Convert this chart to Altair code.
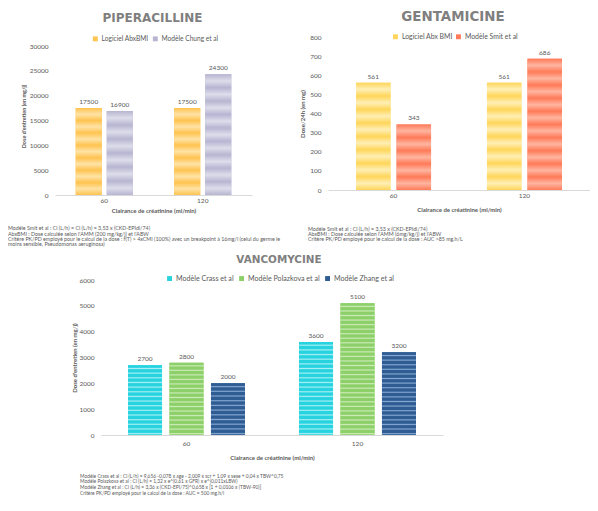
import altair as alt
import pandas as pd

# ---------------- data ----------------
cats = ["60", "120"]
x_title = "Clairance de créatinine (ml/min)"

pip_title = "PIPERACILLINE"
pip_series = ["Logiciel AbxBMI", "Modèle Chung et al"]
pip_abxbmi = [17500, 17500]
pip_chung = [16900, 24300]
pip_ticks = [0, 5000, 10000, 15000, 20000, 25000, 30000]
pip_ytitle = "Dose d'entretien (en mg/j)"
pip_notes = [
    "Modèle Smit et al : Cl (L/h) = Cl (L/h) = 3,53 x (CKD-EPIdi/74)",
    "AbxBMI : Dose calculée selon l'AMM (200 mg/kg/j) et l'ABW",
    "Critère PK/PD employé pour le calcul de la dose : f(T) > 4xCMI (100%) avec un breakpoint à 16mg/l (celui du germe le",
    "moins sensible, Pseudomonas aeruginosa)",
]

gen_title = "GENTAMICINE"
gen_series = ["Logiciel Abx BMI", "Modèle Smit et al"]
gen_abxbmi = [561, 561]
gen_smit = [343, 686]
gen_ticks = [0, 100, 200, 300, 400, 500, 600, 700, 800]
gen_ytitle = "Dose/24h (en mg)"
gen_notes = [
    "Modèle Smit et al : Cl (L/h) = 3,53 x (CKD-EPIdi/74)",
    "AbxBMI : Dose calculée selon l'AMM (6mg/kg/j) et l'ABW",
    "Critère PK/PD employé pour le calcul de la dose : AUC >85 mg.h/L",
]

van_title = "VANCOMYCINE"
van_series = ["Modèle Crass et al", "Modèle Polazkova et al", "Modèle Zhang et al"]
van_crass = [2700, 3600]
van_polazkova = [2800, 5100]
van_zhang = [2000, 3200]
van_ticks = [0, 1000, 2000, 3000, 4000, 5000, 6000]
van_ytitle = "Dose d'entretien (en mg/j)"
van_notes = [
    "Modèle Crass et al : Cl (L/h) = 9,656 -0,078 x age - 2,009 x scr + 1,09 x sexe + 0,04 x TBW^0,75",
    "Modèle Polazkova et al : Cl (L/h) = 1,32 x e^(0,61 x GFR) x e^(0,011xLBW)",
    "Modèle Zhang et al : Cl (L/h) = 3,36 x (CKD-EPI/75)^0,658 x [1 + 0,0106 x (TBW-90)]",
    "Critère PK/PD employé pour le calcul de la dose : AUC = 500 mg.h/l",
]

# ---------------- style ----------------
FONT = "Lato"
TFONT = "DejaVu Sans"
TXT = "#595959"
TTL = "#7F7F7F"
AXLINE = "#D9D9D9"

pip_colors = ["#FFC350", "#B7B5D1"]
pip_lights = ["#FFE3A6", "#DEDDEB"]
gen_colors = ["#FFD65A", "#FF7A58"]
gen_lights = ["#FFEFB5", "#FFB5A0"]
van_colors = ["#28D3E0", "#8DD06A", "#2E5C93"]
van_lights = ["#A6EFF4", "#CDECB8", "#86A8D2"]

one = pd.DataFrame({"k": [0]})


def frame(series, columns):
    rows = []
    for s, vals in zip(series, columns):
        for c, v in zip(cats, vals):
            rows.append({"cat": c, "series": s, "value": v})
    return pd.DataFrame(rows)


def stripes(base, light, n, sharp):
    d = 1.0 / n
    stops = []
    for k in range(n):
        a = k * d
        if sharp:
            stops += [(a, base), (a + 0.45 * d, base), (a + 0.7 * d, light), (a + 0.95 * d, base)]
        else:
            stops += [(a, base), (a + 0.5 * d, light)]
    stops.append((1.0, base))
    return {
        "gradient": "linear", "x1": 0, "y1": 0, "x2": 0, "y2": 1,
        "stops": [{"offset": round(min(o, 1.0), 5), "color": c} for o, c in stops],
    }


def dummy(x, y):
    return alt.Chart(one).mark_text(text=" ", fontSize=1, color="white",
                                    align="left", baseline="top").encode(
        x=alt.value(x), y=alt.value(y))


def panel(df, series, colors, lights, ticks, ymax, W, H, pin, pout, oin, sharp, period,
          title, tsize, tx, ty, ytitle, ysize, ytpad, lx, ly, lfont, lcol,
          notes, nx, ny, nfont, nlh, xlpad, xtpad, dummies):
    xs = alt.X("cat:N", sort=cats,
               scale=alt.Scale(paddingInner=pin, paddingOuter=pout),
               axis=alt.Axis(title=x_title, labelAngle=0, ticks=False, tickSize=0,
                             domainColor=AXLINE, labelColor=TXT, labelFont=FONT,
                             labelFontSize=6.5, labelPadding=xlpad,
                             titleFont=FONT, titleFontSize=6, titleFontWeight="bold",
                             titleColor=TXT, titlePadding=xtpad))
    xo = alt.XOffset("series:N", sort=series,
                     scale=alt.Scale(domain=series, paddingInner=oin, paddingOuter=0))
    ys = alt.Y("value:Q", scale=alt.Scale(domain=[0, ymax], nice=False, zero=True),
               axis=alt.Axis(values=ticks, domain=False, ticks=False, tickSize=0, grid=False,
                             labelColor=TXT, labelFont=FONT, labelFontSize=6.5,
                             labelPadding=7, format="d", title=ytitle,
                             titleFont=FONT, titleFontSize=ysize, titleFontWeight="bold",
                             titleColor=TXT, titlePadding=ytpad))
    color = alt.Color("series:N", scale=alt.Scale(domain=series, range=colors),
                      legend=alt.Legend(title=None, orient="none", legendX=lx, legendY=ly,
                                        direction="horizontal", symbolType="square",
                                        symbolSize=24, symbolStrokeWidth=0, padding=0,
                                        labelFont=FONT, labelFontSize=lfont, labelColor=TXT,
                                        columnPadding=lcol, labelOffset=3))
    layers = [alt.Chart(df).mark_bar().encode(x=xs, xOffset=xo, y=ys, color=color)]
    for s, col, lt in zip(series, colors, lights):
        for c in cats:
            v = float(df[(df.series == s) & (df.cat == c)].value.iloc[0])
            n = max(1, int(round(v / ymax * H / period)))
            layers.append(
                alt.Chart(df)
                .transform_filter(f"datum.series == '{s}' && datum.cat == '{c}'")
                .mark_bar(color=stripes(col, lt, n, sharp))
                .encode(x=xs, xOffset=xo, y=ys)
            )
    layers.append(
        alt.Chart(df).mark_text(font=FONT, fontSize=6.5, color=TXT, baseline="bottom", dy=-3)
        .encode(x=xs, xOffset=xo, y=ys, text=alt.Text("value:Q", format="d"))
    )
    layers.append(
        alt.Chart(one).mark_text(font=TFONT, fontWeight="bold", fontSize=tsize, color=TTL,
                                 align="center", baseline="middle")
        .encode(x=alt.value(tx), y=alt.value(ty), text=alt.value(title))
    )
    layers.append(
        alt.Chart(one).mark_text(font=FONT, fontSize=nfont, color=TXT, align="left",
                                 baseline="top", lineHeight=nlh)
        .encode(x=alt.value(nx), y=alt.value(ny), text=alt.value(notes))
    )
    for (dx, dy) in dummies:
        layers.append(dummy(dx, dy))
    return alt.layer(*layers).properties(width=W, height=H)


pip_df = frame(pip_series, [pip_abxbmi, pip_chung])
gen_df = frame(gen_series, [gen_abxbmi, gen_smit])
van_df = frame(van_series, [van_crass, van_polazkova, van_zhang])

pip = panel(pip_df, pip_series, pip_colors, pip_lights, pip_ticks, 30000 * 158 / 149,
            197, 158, 0.42, 0.21, 0.16, False, 13,
            pip_title, 12, 97.5, -19, pip_ytitle, 5.5, 3, 37, -1.5, 6.6, 3,
            pip_notes, -47, 189.4, 5.3, 5.3, 2.5, 3,
            [(-47, -29), (240, 213)])

gen = panel(gen_df, gen_series, gen_colors, gen_lights, gen_ticks, 800,
            262, 153, 0.427, 0.214, 0.15, False, 13,
            gen_title, 13.4, 125, -20, gen_ytitle, 6, 4, 64, -4, 6.9, 2,
            gen_notes, -20, 190.4, 5.3, 5, 2.5, 7,
            [(-31, -20)])

van = panel(van_df, van_series, van_colors, van_lights, van_ticks, 6000,
            342, 155, 0.316, 0.158, 0.18, True, 4.6,
            van_title, 10.4, 178, -20, van_ytitle, 6, 1, 65, -5.2, 7.1, 4,
            van_notes, -21, 193.8, 4.85, 5.7, 5.5, 7,
            [(-40, -29)])

spacer = alt.Chart(one).mark_text(text=" ", fontSize=1, color="white").encode(
    x=alt.value(0), y=alt.value(0)).properties(width=1, height=1)

top = (
    alt.hconcat(pip, gen, spacing=2)
    .resolve_scale(color="independent", xOffset="independent", x="independent", y="independent")
    .resolve_legend(color="independent")
)
bottom = (
    alt.hconcat(spacer, van, spacing=5)
    .resolve_scale(color="independent", xOffset="independent", x="independent", y="independent")
    .resolve_legend(color="independent")
)

chart = (
    alt.vconcat(top, bottom, spacing=0)
    .resolve_scale(color="independent", xOffset="independent", x="independent", y="independent")
    .resolve_legend(color="independent")
    .properties(padding={"left": 0, "top": 0, "right": 0, "bottom": 0}, background="white")
    .configure_view(strokeWidth=0)
)

chart.save("out.html", embed_options={"renderer": "svg", "actions": False})
